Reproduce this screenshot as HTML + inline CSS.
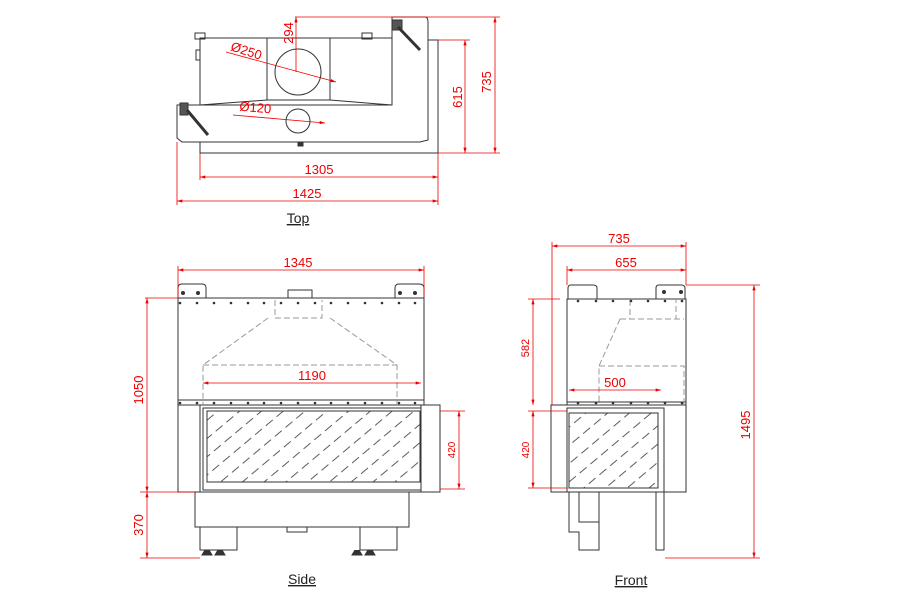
<!DOCTYPE html>
<html><head><style>body{margin:0;background:#fff}svg{display:block}text{font-family:"Liberation Sans",sans-serif}</style></head><body>
<svg width="900" height="600" viewBox="0 0 900 600" xmlns="http://www.w3.org/2000/svg">
<defs>
<marker id="a" viewBox="0 0 10 6" refX="10" refY="3" markerWidth="7" markerHeight="4" orient="auto-start-reverse"><path d="M0,0L10,3L0,6z" fill="#e00"/></marker>
<pattern id="h" width="14" height="14" patternUnits="userSpaceOnUse" patternTransform="rotate(-40)"><line x1="0" y1="7" x2="9" y2="7" stroke="#333" stroke-width="0.8"/></pattern>
</defs>
<g fill="none" stroke="#333" stroke-width="1">
<rect x="200" y="40" width="238" height="113"/>
<path d="M200,38H392V105H200Z" fill="#fff"/>
<line x1="267" y1="38" x2="267" y2="100"/><line x1="330" y1="38" x2="330" y2="100"/>
<path d="M200,105L267,100H330L392,105"/>
<path d="M392,17H425Q428,17 428,22V140L420,142H182L177,138V105H392Z" fill="#fff"/>
<rect x="195" y="33" width="10" height="6"/><rect x="362" y="33" width="10" height="6"/><rect x="196" y="50" width="4" height="10"/>
<circle cx="298" cy="72" r="23"/><circle cx="298" cy="121" r="12"/>
<rect x="298" y="142" width="5" height="4" fill="#333"/>
<path d="M392,20h10v10h-10z M180,103h8v12h-8z" fill="#555"/>
<line x1="398" y1="27" x2="420" y2="50" stroke-width="3"/><line x1="187" y1="110" x2="208" y2="135" stroke-width="3"/>
<rect x="178" y="298" width="246" height="107"/>
<path d="M178,298v-10q0-4 4-4h20q4 0 4,4v10 M395,298v-10q0-4 4-4h20q5 0 5,4v10"/>
<rect x="288" y="290" width="24" height="8"/>
<rect x="178" y="405" width="262" height="87"/>
<line x1="178" y1="400" x2="424" y2="400"/>
<line x1="200" y1="405" x2="200" y2="492"/><line x1="421" y1="405" x2="421" y2="492"/>
<rect x="203" y="408" width="218" height="82"/>
<rect x="207" y="411" width="213" height="71" fill="url(#h)"/>
<rect x="195" y="492" width="214" height="35"/>
<rect x="287" y="527" width="20" height="5"/>
<rect x="200" y="527" width="37" height="23"/><rect x="360" y="527" width="37" height="23"/>
<path d="M205,550l-3,5h10l-3,-5 M218,550l-3,5h10l-3,-5 M355,550l-3,5h10l-3,-5 M368,550l-3,5h10l-3,-5" fill="#333"/>
<g stroke="#999" stroke-dasharray="6,3"><path d="M275,300V318H322V300 M268,318L203,365V405 M330,318L397,365V405 M203,365H397"/></g>
<rect x="567" y="299" width="119" height="106"/>
<line x1="567" y1="402" x2="686" y2="402"/>
<path d="M568,299v-11q0-3 3-3h22q4 0 4,3v11 M656,299v-11q0-3 3-3h22q4 0 4,3v11"/>
<rect x="551" y="405" width="135" height="87"/>
<rect x="567" y="408" width="97" height="84"/>
<rect x="569" y="413" width="89" height="75" fill="url(#h)"/>
<path d="M569,492v40h10v18h20v-58 M656,492v58h8v-58 M579,492v30h20"/>
<g stroke="#999" stroke-dasharray="6,3"><path d="M630,300V319H676V300 M620,319L599,366V405 M620,319H684 M599,366H684V405"/></g>
</g>
<g fill="#333">
<circle cx="183" cy="293" r="2"/><circle cx="198" cy="293" r="2"/><circle cx="400" cy="293" r="2"/><circle cx="415" cy="293" r="2"/>
<circle cx="664" cy="292" r="2"/><circle cx="681" cy="292" r="2"/>
<g id="d1"><circle cx="180" cy="303" r="1.3"/><circle cx="197" cy="303" r="1.3"/><circle cx="214" cy="303" r="1.3"/><circle cx="231" cy="303" r="1.3"/><circle cx="248" cy="303" r="1.3"/><circle cx="264" cy="303" r="1.3"/><circle cx="281" cy="303" r="1.3"/><circle cx="298" cy="303" r="1.3"/><circle cx="315" cy="303" r="1.3"/><circle cx="331" cy="303" r="1.3"/><circle cx="348" cy="303" r="1.3"/><circle cx="365" cy="303" r="1.3"/><circle cx="382" cy="303" r="1.3"/><circle cx="399" cy="303" r="1.3"/><circle cx="415" cy="303" r="1.3"/></g>
<use href="#d1" y="100"/>
<g id="d2"><circle cx="578" cy="301" r="1.3"/><circle cx="596" cy="301" r="1.3"/><circle cx="613" cy="301" r="1.3"/><circle cx="631" cy="301" r="1.3"/><circle cx="648" cy="301" r="1.3"/><circle cx="665" cy="301" r="1.3"/><circle cx="682" cy="301" r="1.3"/></g>
<use href="#d2" y="102"/>
</g>
<g stroke="#e00" stroke-width="0.8" fill="none">
<path d="M295,17H500 M438,40H470 M438,153H500 M200,153V180 M438,153V205 M177,142V205"/>
<line x1="200" y1="177" x2="438" y2="177" marker-start="url(#a)" marker-end="url(#a)"/>
<line x1="177" y1="201" x2="438" y2="201" marker-start="url(#a)" marker-end="url(#a)"/>
<line x1="465" y1="40" x2="465" y2="153" marker-start="url(#a)" marker-end="url(#a)"/>
<line x1="495" y1="17" x2="495" y2="153" marker-start="url(#a)" marker-end="url(#a)"/>
<line x1="296" y1="17" x2="296" y2="72" marker-start="url(#a)"/>
<line x1="226" y1="52" x2="336" y2="82" marker-end="url(#a)"/>
<line x1="233" y1="115" x2="325" y2="123" marker-end="url(#a)"/>
<path d="M178,266V298 M424,266V298 M145,298H178 M140,492H195 M140,558H200 M440,411H465 M440,489H465"/>
<line x1="178" y1="270" x2="424" y2="270" marker-start="url(#a)" marker-end="url(#a)"/>
<line x1="147" y1="298" x2="147" y2="492" marker-start="url(#a)" marker-end="url(#a)"/>
<line x1="147" y1="492" x2="147" y2="558" marker-start="url(#a)" marker-end="url(#a)"/>
<line x1="203" y1="383" x2="421" y2="383" marker-start="url(#a)" marker-end="url(#a)"/>
<line x1="459" y1="411" x2="459" y2="489" marker-start="url(#a)" marker-end="url(#a)"/>
<path d="M552,242V405 M686,242V285 M567,266V285 M528,299H560 M528,411H567 M528,488H567 M686,285H760 M665,558H760"/>
<line x1="552" y1="246" x2="686" y2="246" marker-start="url(#a)" marker-end="url(#a)"/>
<line x1="567" y1="270" x2="686" y2="270" marker-start="url(#a)" marker-end="url(#a)"/>
<line x1="533" y1="299" x2="533" y2="405" marker-start="url(#a)" marker-end="url(#a)"/>
<line x1="533" y1="411" x2="533" y2="488" marker-start="url(#a)" marker-end="url(#a)"/>
<line x1="754" y1="285" x2="754" y2="558" marker-start="url(#a)" marker-end="url(#a)"/>
<line x1="569" y1="390" x2="661" y2="390" marker-start="url(#a)" marker-end="url(#a)"/>
</g>
<g fill="#e00" font-size="13" text-anchor="middle">
<text x="319" y="174">1305</text><text x="307" y="198">1425</text>
<text x="462" y="97" transform="rotate(-90 462 97)">615</text>
<text x="491" y="82" transform="rotate(-90 491 82)">735</text>
<text x="293" y="33" transform="rotate(-90 293 33)">294</text>
<text x="245" y="55" transform="rotate(18 245 55)">Ø250</text>
<text x="255" y="112" transform="rotate(5 255 112)">Ø120</text>
<text x="298" y="267">1345</text><text x="312" y="380">1190</text>
<text x="143" y="390" transform="rotate(-90 143 390)">1050</text>
<text x="143" y="525" transform="rotate(-90 143 525)">370</text>
<text x="455" y="450" font-size="10" transform="rotate(-90 455 450)">420</text>
<text x="619" y="243">735</text><text x="626" y="267">655</text><text x="615" y="387">500</text>
<text x="529" y="348" font-size="11" transform="rotate(-90 529 348)">582</text>
<text x="529" y="450" font-size="10" transform="rotate(-90 529 450)">420</text>
<text x="750" y="425" transform="rotate(-90 750 425)">1495</text>
</g>
<g fill="#222" font-size="14" text-anchor="middle" text-decoration="underline">
<text x="298" y="223">Top</text><text x="302" y="584">Side</text><text x="631" y="585">Front</text>
</g>
</svg>
</body></html>
